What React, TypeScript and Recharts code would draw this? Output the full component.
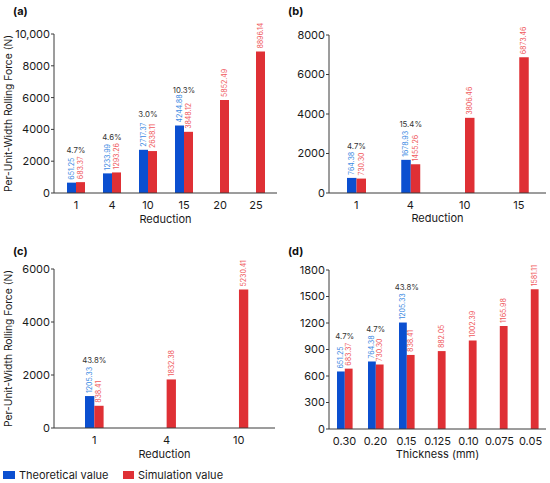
import React from "react";
import { BarChart, Bar, XAxis, YAxis, LabelList } from "recharts";

// ---- data ----
const catsA = ["1", "4", "10", "15", "20", "25"];
const theoA = [651.25, 1233.99, 2717.37, 4244.88, null, null];
const simA = [683.37, 1293.26, 2638.11, 3848.12, 5852.49, 8896.14];
const pctA = ["4.7%", "4.6%", "3.0%", "10.3%", null, null];

const catsB = ["1", "4", "10", "15"];
const theoB = [764.38, 1678.93, null, null];
const simB = [730.3, 1455.26, 3806.46, 6873.46];
const pctB = ["4.7%", "15.4%", null, null];

const catsC = ["1", "4", "10"];
const theoC = [1205.33, null, null];
const simC = [838.41, 1832.38, 5230.41];
const pctC = ["43.8%", null, null];

const catsD = ["0.30", "0.20", "0.15", "0.125", "0.10", "0.075", "0.05"];
const theoD = [651.25, 764.38, 1205.33, null, null, null, null];
const simD = [683.37, 730.3, 838.41, 882.05, 1002.39, 1165.98, 1581.11];
const pctD = ["4.7%", "4.7%", "43.8%", null, null, null, null];

const ticksA = [0, 2000, 4000, 6000, 8000, 10000];
const ticksB = [0, 2000, 4000, 6000, 8000];
const ticksC = [0, 2000, 4000, 6000];
const ticksD = [0, 300, 600, 900, 1200, 1500, 1800];

const seriesNames = ["Theoretical value", "Simulation value"];

const BLUE = "#0b4fd0";
const RED = "#df3035";
const BLUE_TXT = "#3d8be3";
const RED_TXT = "#f05a5e";
const FONT = "Inter, 'Liberation Sans', sans-serif";
const AXIS = "#3a3a3a";

function build(cats: string[], theo: (number | null)[], sim: number[], pct: (string | null)[]) {
  return cats.map((c, i) => ({ cat: c, theo: theo[i], sim: sim[i], pct: pct[i] }));
}

const fmtTick = (v: number) => (v >= 10000 ? v.toLocaleString("en-US") : String(v));

function boxOf(p: any) {
  const vb = p.viewBox || {};
  return {
    x: vb.x ?? p.x,
    y: vb.y ?? p.y,
    width: vb.width ?? p.width,
    height: vb.height ?? p.height,
  };
}

const LABEL_FS = 7;
const CHAR_W = 3.4;

function valueLabel(color: string) {
  return (p: any) => {
    if (p.value == null) return null;
    const { x, y, width } = boxOf(p);
    const cx = x + width / 2;
    const ty = y - 3;
    return (
      <text
        x={cx}
        y={ty}
        transform={`rotate(-90 ${cx} ${ty})`}
        textAnchor="start"
        dominantBaseline="central"
        fontSize={LABEL_FS}
        fontFamily={FONT}
        fill={color}
      >
        {Number(p.value).toFixed(2)}
      </text>
    );
  };
}

function pctLabel(theo: (number | null)[], sim: number[]) {
  return (p: any) => {
    if (p.value == null) return null;
    const i = p.index;
    const t = theo[i];
    if (t == null) return null;
    const { x, y, width, height } = boxOf(p);
    const perUnit = height / t;
    const simTop = y + height - sim[i] * perUnit;
    const top = Math.min(y, simTop);
    const len = Math.max(t.toFixed(2).length, sim[i].toFixed(2).length) * CHAR_W;
    const cy = top - 3 - len - 9;
    return (
      <text
        x={x + width}
        y={cy}
        textAnchor="middle"
        dominantBaseline="central"
        fontSize={7.8}
        fontFamily={FONT}
        fill="#333"
      >
        {p.value}
      </text>
    );
  };
}

type PanelProps = {
  left: number;
  top: number;
  width: number;
  height: number;
  margin: { top: number; right: number; left: number; bottom: number };
  xHeight: number;
  pad: { left: number; right: number };
  cats: string[];
  theo: (number | null)[];
  sim: number[];
  pct: (string | null)[];
  ticks: number[];
  barSize: number;
  xTitle: string;
  xTitleY: number;
  yTitle?: string;
  tag: string;
};

function Panel(props: PanelProps) {
  const data = build(props.cats, props.theo, props.sim, props.pct);
  const max = props.ticks[props.ticks.length - 1];
  const tickStyle = { fontSize: 11, fill: "#1a1a1a", fontFamily: FONT };
  return (
    <div style={{ position: "absolute", left: props.left, top: props.top }}>
      <BarChart
        width={props.width}
        height={props.height}
        data={data}
        margin={props.margin}
        barGap={0}
        barSize={props.barSize}
      >
        <XAxis
          dataKey="cat"
          height={props.xHeight}
          padding={props.pad}
          tickLine={false}
          tickSize={6}
          tickMargin={2}
          axisLine={{ stroke: AXIS }}
          tick={tickStyle}
          interval={0}
          label={{
            content: (p: any) => {
              const vb = p.viewBox;
              return (
                <text
                  x={vb.x + vb.width / 2}
                  y={props.xTitleY}
                  textAnchor="middle"
                  fontSize={11}
                  fontFamily={FONT}
                  fill="#1a1a1a"
                >
                  {props.xTitle}
                </text>
              );
            },
          }}
        />
        <YAxis
          width={54}
          domain={[0, max]}
          ticks={props.ticks}
          tickFormatter={fmtTick}
          tickSize={3}
          tickMargin={1}
          axisLine={{ stroke: AXIS }}
          tickLine={{ stroke: AXIS }}
          tick={tickStyle}
          label={
            props.yTitle
              ? {
                  content: (p: any) => {
                    const vb = p.viewBox;
                    const cy = vb.y + vb.height / 2;
                    return (
                      <text
                        x={7.5}
                        y={cy}
                        transform={`rotate(-90 7.5 ${cy})`}
                        textAnchor="middle"
                        dominantBaseline="central"
                        fontSize={10.3}
                        fontFamily={FONT}
                        fill="#1a1a1a"
                      >
                        {props.yTitle}
                      </text>
                    );
                  },
                }
              : undefined
          }
        />
        <Bar dataKey="theo" name={seriesNames[0]} fill={BLUE} isAnimationActive={false}>
          <LabelList dataKey="theo" content={valueLabel(BLUE_TXT)} />
          <LabelList dataKey="pct" content={pctLabel(props.theo, props.sim)} />
        </Bar>
        <Bar dataKey="sim" name={seriesNames[1]} fill={RED} isAnimationActive={false}>
          <LabelList dataKey="sim" content={valueLabel(RED_TXT)} />
        </Bar>
      </BarChart>
      <div
        style={{
          position: "absolute",
          left: 13,
          top: 4,
          fontFamily: FONT,
          fontWeight: 700,
          fontSize: 11,
          color: "#111",
        }}
      >
        {props.tag}
      </div>
    </div>
  );
}

const YTITLE = "Per-Unit-Width Rolling Force (N)";

export default function App() {
  return (
    <div
      style={{
        position: "absolute",
        left: 0,
        top: 0,
        width: 550,
        height: 483,
        background: "#fff",
        overflow: "hidden",
      }}
    >
      <Panel
        left={0}
        top={0}
        width={280}
        height={230}
        margin={{ top: 34, right: 3, left: 0, bottom: 0 }}
        xHeight={37}
        pad={{ left: 4, right: 3 }}
        cats={catsA}
        theo={theoA}
        sim={simA}
        pct={pctA}
        ticks={ticksA}
        barSize={9}
        xTitle="Reduction"
        xTitleY={223}
        yTitle={YTITLE}
        tag="(a)"
      />
      <Panel
        left={275}
        top={0}
        width={275}
        height={230}
        margin={{ top: 35, right: 4, left: 0, bottom: 0 }}
        xHeight={37}
        pad={{ left: 0, right: 0 }}
        cats={catsB}
        theo={theoB}
        sim={simB}
        pct={pctB}
        ticks={ticksB}
        barSize={9.5}
        xTitle="Reduction"
        xTitleY={222}
        tag="(b)"
      />
      <Panel
        left={0}
        top={240}
        width={280}
        height={220}
        margin={{ top: 29, right: 5, left: 0, bottom: 0 }}
        xHeight={32}
        pad={{ left: 4, right: 0 }}
        cats={catsC}
        theo={theoC}
        sim={simC}
        pct={pctC}
        ticks={ticksC}
        barSize={9.3}
        xTitle="Reduction"
        xTitleY={218}
        yTitle={YTITLE}
        tag="(c)"
      />
      <Panel
        left={275}
        top={240}
        width={275}
        height={220}
        margin={{ top: 30, right: 4, left: 0, bottom: 0 }}
        xHeight={31}
        pad={{ left: 0, right: 0 }}
        cats={catsD}
        theo={theoD}
        sim={simD}
        pct={pctD}
        ticks={ticksD}
        barSize={7.8}
        xTitle="Thickness (mm)"
        xTitleY={218}
        tag="(d)"
      />
      <div
        style={{
          position: "absolute",
          left: 3,
          top: 468,
          display: "flex",
          alignItems: "center",
          fontFamily: FONT,
          fontSize: 11,
          color: "#1a1a1a",
          whiteSpace: "nowrap",
        }}
      >
        <span style={{ display: "inline-block", width: 12, height: 8, background: BLUE, marginRight: 4 }} />
        <span style={{ width: 104 }}>{seriesNames[0]}</span>
        <span style={{ display: "inline-block", width: 11, height: 8, background: RED, marginRight: 4 }} />
        <span>{seriesNames[1]}</span>
      </div>
    </div>
  );
}
